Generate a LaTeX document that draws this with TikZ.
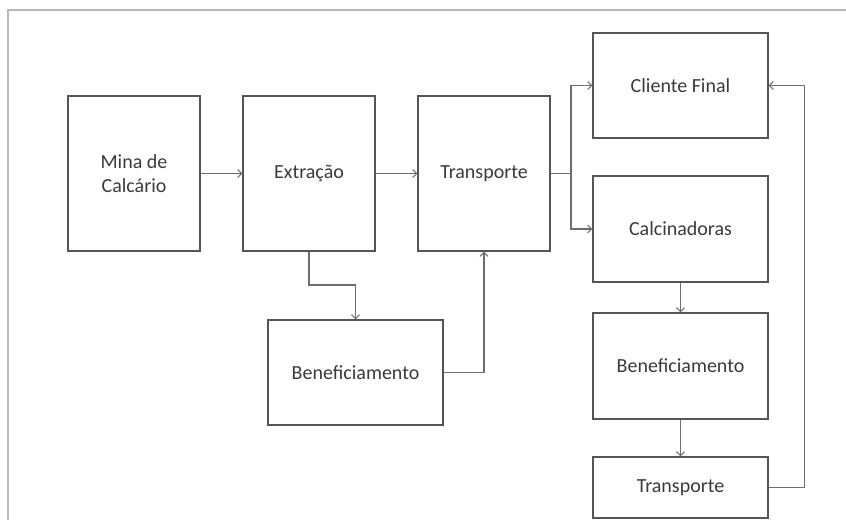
\documentclass[tikz,border=0pt]{standalone}
\usepackage{fontspec}
\setmainfont{Carlito}
\usetikzlibrary{arrows.meta}
\definecolor{boxline}{HTML}{555555}
\definecolor{conn}{HTML}{6E6E6E}
\definecolor{txt}{HTML}{3A3A3A}
\definecolor{frame}{HTML}{B8B8B8}
\tikzset{
  blk/.style={draw=boxline, line width=0.9pt, rectangle, inner sep=0pt, align=center,
    text=txt, font=\fontsize{15}{17.5}\selectfont},
  wide/.style={minimum width=131.25pt},
  narrow/.style={minimum width=99pt},
  link/.style={draw=conn, line width=0.8pt, -{Straight Barb[length=3pt,width=6pt]}},
  plain/.style={draw=conn, line width=0.8pt}
}
\begin{document}
\begin{tikzpicture}[x=0.75pt,y=-0.75pt]
\useasboundingbox (0,0) rectangle (846,520);
\draw[frame, line width=1.2pt] (8,520) -- (8,10) -- (846,10);
\node[blk, narrow, minimum height=116.25pt] (mina) at (134,173.5) {Mina de\\Calcário};
\node[blk, narrow, minimum height=116.25pt] (ext) at (309,173.5) {Extração};
\node[blk, narrow, minimum height=116.25pt] (tr) at (484,173.5) {Transporte};
\node[blk, wide, minimum height=78.75pt] (cli) at (680.5,85.5) {Cliente Final};
\node[blk, wide, minimum height=79.5pt] (calc) at (680.5,229) {Calcinadoras};
\node[blk, wide, minimum height=78.75pt] (b1) at (355.5,372.5) {Beneficiamento};
\node[blk, wide, minimum height=79.5pt] (b2) at (680.5,366) {Beneficiamento};
\node[blk, wide, minimum height=45.75pt] (t2) at (680.5,487.5) {Transporte};
\coordinate (sp) at (571,173.5);
\coordinate (m1) at (309,285);
\draw[link] (mina.east) -- (ext.west);
\draw[link] (ext.east) -- (tr.west);
\draw[plain] (tr.east) -- (sp);
\draw[link] (sp) |- (cli.west);
\draw[link] (sp) |- (calc.west);
\draw[link] (ext.south) -- (m1) -| (b1.north);
\draw[link] (b1.east) -| (tr.south);
\draw[link] (calc.south) -- (b2.north);
\draw[link] (b2.south) -- (t2.north);
\draw[link] (t2.east) -- ++(36,0) |- (cli.east);
\end{tikzpicture}
\end{document}
